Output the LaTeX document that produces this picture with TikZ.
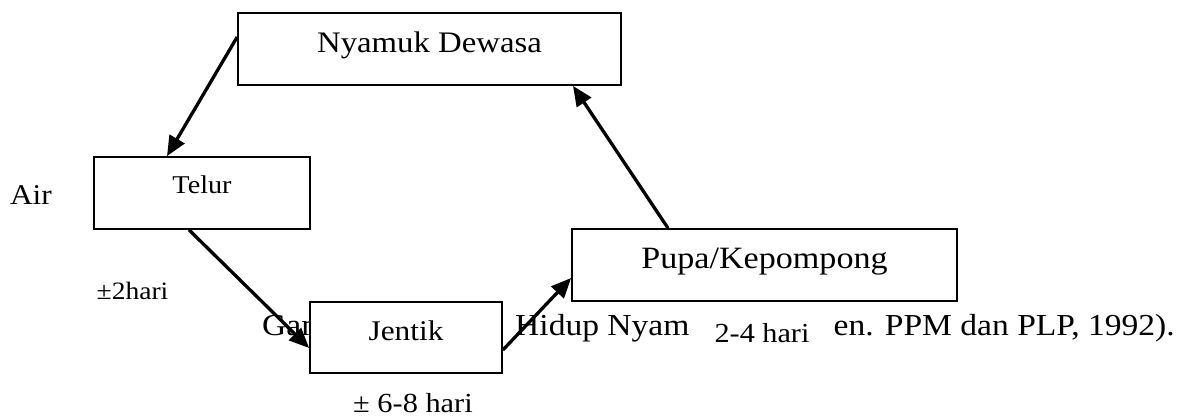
\documentclass[tikz,border=0pt]{standalone}
\usepackage{fontspec}
\setmainfont[FakeStretch=1.1]{Liberation Serif}
\usetikzlibrary{arrows.meta,calc}
\newcommand{\fs}[1]{\fontsize{#1}{#1}\selectfont}
\tikzset{
  stagebox/.style={draw, line width=1.7pt, fill=white, inner sep=0pt, align=center},
  lbl/.style={inner sep=0pt, anchor=base},
  captxt/.style={inner sep=0pt, font=\fs{30.5}},
  flow/.style={line width=3.3pt, -{Triangle[length=20pt,width=17pt]}},
}
\begin{document}
\begin{tikzpicture}[x=1pt, y=-1pt]
\useasboundingbox (0,0) rectangle (1180,416);
% caption (partly hidden behind boxes)
\node[captxt, anchor=base west] (capa) at (262,335) {Gambar};
\node[captxt, anchor=base west] (capb) at (515,335) {Hidup Nyam};
\node[captxt, anchor=base east] (capc) at (1175,335) {en. PPM dan PLP, 1992).};
% stages
\node[stagebox, minimum width=383pt, text height=39pt, text depth=33pt, font=\fs{29.8}] (nyamuk) at (429.5,49) {Nyamuk Dewasa};
\node[stagebox, minimum width=216pt, text height=36pt, text depth=36pt, font=\fs{25.6}] (telur) at (202,193) {Telur};
\node[stagebox, minimum width=192pt, text height=38pt, text depth=33pt, font=\fs{28.5}] (jentik) at (406,337.5) {Jentik};
\node[stagebox, minimum width=385pt, text height=39pt, text depth=33pt, font=\fs{31}] (pupa) at (764.5,265) {Pupa/Kepompong};
% labels
\node[lbl, font=\fs{28.6}] (air) at (31,204) {Air};
\node[lbl, font=\fs{25}] (dua) at (132.5,299) {±2hari};
\node[lbl, font=\fs{27.6}] (enam) at (413,412) {± 6-8 hari};
\node[inner sep=0pt, fill=white, minimum width=140pt, text height=36pt, text depth=14pt, font=\fs{27.5}] (empat) at (762,331) {2-4 hari};
% arrows
\draw[flow] ($(nyamuk.west)+(0,-12)$) -- ($(telur.north)+(-35,0)$);
\draw[flow] ($(telur.south)+(-13,0)$) -- ($(jentik.west)+(0,10.5)$);
\draw[flow] ($(jentik.east)+(0,12.5)$) -- ($(pupa.west)+(0,13)$);
\draw[flow] ($(pupa.north)+(-96.5,0)$) -- ($(nyamuk.south)+(143.5,0)$);
\end{tikzpicture}
\end{document}
